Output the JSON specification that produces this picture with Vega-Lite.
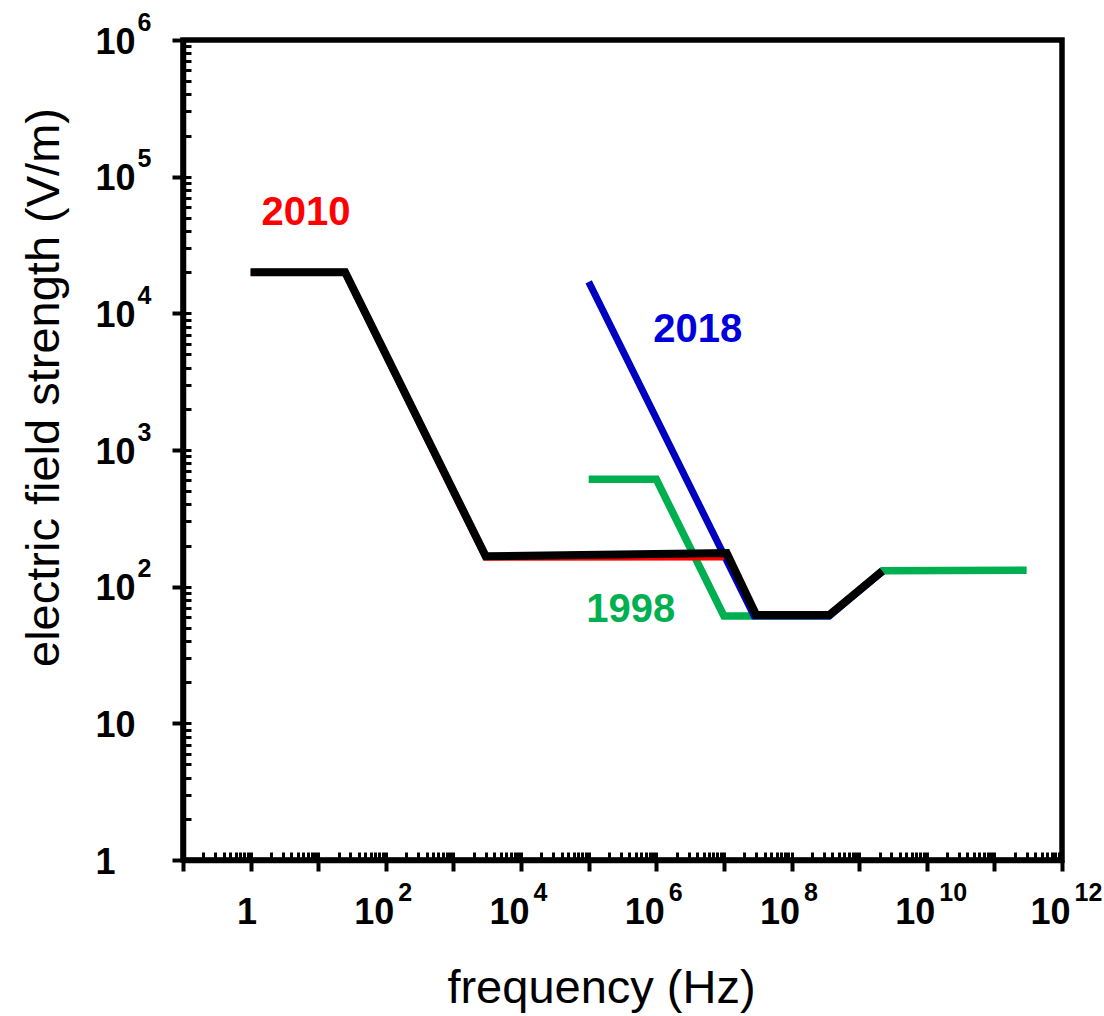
{
  "$schema": "https://vega.github.io/schema/vega-lite/v6.json",
  "width": 879,
  "height": 820,
  "autosize": {"type": "none"},
  "padding": {"left": 183, "top": 40, "right": 42, "bottom": 156},
  "config": {
    "font": "Liberation Sans",
    "view": {"stroke": "black", "strokeWidth": 5.5},
    "axis": {"grid": false, "labelFlush": false, "labelOverlap": false, "labelBound": false, "labelLimit": 0, "labelColor": "black", "titleColor": "black", "tickColor": "black", "domainColor": "black"}
  },
  "datasets": {
    "lines": [
      {"series": "1998", "f": 1e5, "E": 610},
      {"series": "1998", "f": 1e6, "E": 610},
      {"series": "1998", "f": 1e7, "E": 61},
      {"series": "1998", "f": 3.6e8, "E": 61},
      {"series": "1998", "f": 2.2e9, "E": 131},
      {"series": "1998", "f": 3e11, "E": 132},
      {"series": "2018", "f": 1e5, "E": 17000},
      {"series": "2018", "f": 2.8e7, "E": 61},
      {"series": "2018", "f": 3.6e8, "E": 61},
      {"series": "2018", "f": 2.2e9, "E": 129},
      {"series": "2010", "f": 1, "E": 20000},
      {"series": "2010", "f": 25, "E": 20000},
      {"series": "2010", "f": 3000, "E": 164},
      {"series": "2010", "f": 1e7, "E": 165},
      {"series": "combined", "f": 1, "E": 20000},
      {"series": "combined", "f": 25, "E": 20000},
      {"series": "combined", "f": 3000, "E": 167},
      {"series": "combined", "f": 1.1e7, "E": 176},
      {"series": "combined", "f": 3e7, "E": 62},
      {"series": "combined", "f": 3.6e8, "E": 62},
      {"series": "combined", "f": 2.2e9, "E": 130}
    ],
    "labels": [
      {"label": "2010", "f": 6.6, "E": 54300},
      {"label": "2018", "f": 4.1e6, "E": 7570},
      {"label": "1998", "f": 4.17e5, "E": 68}
    ]
  },
  "resolve": {"axis": {"x": "independent", "y": "independent"}},
  "layer": [
    {
      "data": {"name": "lines"},
      "transform": [{"filter": "datum.series == '1998'"}],
      "mark": {"type": "line", "color": "#00B050", "strokeWidth": 7.5, "strokeCap": "butt", "strokeJoin": "miter"},
      "encoding": {
        "x": {
          "field": "f", "type": "quantitative",
          "scale": {"type": "log", "domain": [0.1, 1e12], "nice": false},
          "axis": {
            "orient": "bottom",
            "values": [0.1, 1, 10, 100, 1000, 1e4, 1e5, 1e6, 1e7, 1e8, 1e9, 1e10, 1e11, 1e12],
            "labelExpr": "datum.value == 1 ? '1' : ((datum.value > 99 && round(log(datum.value)/LN10) % 2 == 0) ? '10' : '')",
            "labelFontSize": 36, "labelFontWeight": "bold",
            "labelAlign": "center", "labelBaseline": "alphabetic",
            "labelPadding": 52,
            "labelOffset": {"condition": {"test": "datum.value == 1", "value": -4}, "value": -12},
            "ticks": true, "tickSize": 11, "tickWidth": 4,
            "domain": true, "domainWidth": 5.5,
            "title": "frequency (Hz)", "titleFontSize": 47, "titleFontWeight": "normal",
            "titleX": 418, "titleY": 128, "titleAlign": "center", "titleBaseline": "middle", "titleAngle": 0
          }
        },
        "y": {
          "field": "E", "type": "quantitative",
          "scale": {"type": "log", "domain": [1, 1e6], "nice": false},
          "axis": {
            "orient": "left",
            "values": [1, 10, 100, 1000, 1e4, 1e5, 1e6],
            "labelExpr": "datum.value == 1 ? '1' : '10'",
            "labelFontSize": 36, "labelFontWeight": "bold",
            "labelAlign": "left", "labelBaseline": "alphabetic",
            "labelPadding": 77, "labelOffset": 13,
            "ticks": true, "tickSize": 11, "tickWidth": 4,
            "domain": true, "domainWidth": 5.5,
            "title": "electric field strength (V/m)", "titleFontSize": 47, "titleFontWeight": "normal",
            "titleX": -139, "titleY": 347, "titleAlign": "center", "titleBaseline": "middle", "titleAngle": -90
          }
        }
      }
    },
    {
      "data": {"name": "lines"},
      "transform": [{"filter": "datum.series == '2018'"}],
      "mark": {"type": "line", "color": "#0000C0", "strokeWidth": 7, "strokeCap": "butt", "strokeJoin": "miter"},
      "encoding": {
        "x": {
          "field": "f", "type": "quantitative",
          "scale": {"type": "log", "domain": [0.1, 1e12], "nice": false},
          "axis": {
            "orient": "bottom",
            "values": [100, 1e4, 1e6, 1e8, 1e10, 1e12],
            "labelExpr": "'' + round(log(datum.value)/LN10)",
            "labelFontSize": 25, "labelFontWeight": "bold",
            "labelAlign": "left", "labelBaseline": "alphabetic",
            "labelPadding": 40, "labelOffset": 12,
            "ticks": false, "tickSize": 0, "domain": false, "title": null
          }
        },
        "y": {
          "field": "E", "type": "quantitative",
          "scale": {"type": "log", "domain": [1, 1e6], "nice": false},
          "axis": {
            "orient": "left",
            "values": [100, 1000, 1e4, 1e5, 1e6],
            "labelExpr": "'' + round(log(datum.value)/LN10)",
            "labelFontSize": 25, "labelFontWeight": "bold",
            "labelAlign": "left", "labelBaseline": "alphabetic",
            "labelPadding": 46, "labelOffset": -10,
            "ticks": false, "tickSize": 0, "domain": false, "title": null
          }
        }
      }
    },
    {
      "data": {"name": "lines"},
      "transform": [{"filter": "datum.series == '2010'"}],
      "mark": {"type": "line", "color": "#FF0000", "strokeWidth": 7, "strokeCap": "butt", "strokeJoin": "miter"},
      "encoding": {
        "x": {
          "field": "f", "type": "quantitative",
          "scale": {"type": "log", "domain": [0.1, 1e12], "nice": false},
          "axis": {
            "orient": "bottom",
            "values": [0.1, 0.2, 0.3, 0.4, 0.5, 0.6, 0.7, 0.8, 0.9, 1, 2, 3, 4, 5, 6, 7, 8, 9, 10, 20, 30, 40, 50, 60, 70, 80, 90, 100, 200, 300, 400, 500, 600, 700, 800, 900, 1000, 2000, 3000, 4000, 5000, 6000, 7000, 8000, 9000, 1e4, 2e4, 3e4, 4e4, 5e4, 6e4, 7e4, 8e4, 9e4, 1e5, 2e5, 3e5, 4e5, 5e5, 6e5, 7e5, 8e5, 9e5, 1e6, 2e6, 3e6, 4e6, 5e6, 6e6, 7e6, 8e6, 9e6, 1e7, 2e7, 3e7, 4e7, 5e7, 6e7, 7e7, 8e7, 9e7, 1e8, 2e8, 3e8, 4e8, 5e8, 6e8, 7e8, 8e8, 9e8, 1e9, 2e9, 3e9, 4e9, 5e9, 6e9, 7e9, 8e9, 9e9, 1e10, 2e10, 3e10, 4e10, 5e10, 6e10, 7e10, 8e10, 9e10, 1e11, 2e11, 3e11, 4e11, 5e11, 6e11, 7e11, 8e11, 9e11, 1e12],
            "labels": false, "ticks": true, "tickSize": -8, "tickWidth": 3,
            "domain": false, "title": null
          }
        },
        "y": {
          "field": "E", "type": "quantitative",
          "scale": {"type": "log", "domain": [1, 1e6], "nice": false},
          "axis": {
            "orient": "left",
            "values": [1, 2, 3, 4, 5, 6, 7, 8, 9, 10, 20, 30, 40, 50, 60, 70, 80, 90, 100, 200, 300, 400, 500, 600, 700, 800, 900, 1000, 2000, 3000, 4000, 5000, 6000, 7000, 8000, 9000, 1e4, 2e4, 3e4, 4e4, 5e4, 6e4, 7e4, 8e4, 9e4, 1e5, 2e5, 3e5, 4e5, 5e5, 6e5, 7e5, 8e5, 9e5, 1e6],
            "labels": false, "ticks": true, "tickSize": -8, "tickWidth": 3,
            "domain": false, "title": null
          }
        }
      }
    },
    {
      "data": {"name": "lines"},
      "transform": [{"filter": "datum.series == 'combined'"}],
      "mark": {"type": "line", "color": "#000000", "strokeWidth": 8, "strokeCap": "butt", "strokeJoin": "miter"},
      "encoding": {
        "x": {"field": "f", "type": "quantitative", "scale": {"type": "log", "domain": [0.1, 1e12], "nice": false}, "axis": null},
        "y": {"field": "E", "type": "quantitative", "scale": {"type": "log", "domain": [1, 1e6], "nice": false}, "axis": null}
      }
    },
    {
      "data": {"name": "labels"},
      "mark": {"type": "text", "fontSize": 40, "fontWeight": "bold", "align": "center", "baseline": "middle"},
      "encoding": {
        "x": {"field": "f", "type": "quantitative", "scale": {"type": "log", "domain": [0.1, 1e12], "nice": false}, "axis": null},
        "y": {"field": "E", "type": "quantitative", "scale": {"type": "log", "domain": [1, 1e6], "nice": false}, "axis": null},
        "text": {"field": "label"},
        "color": {"field": "label", "type": "nominal", "scale": {"domain": ["2010", "2018", "1998"], "range": ["#FF0000", "#0000DD", "#00B050"]}, "legend": null}
      }
    }
  ]
}
